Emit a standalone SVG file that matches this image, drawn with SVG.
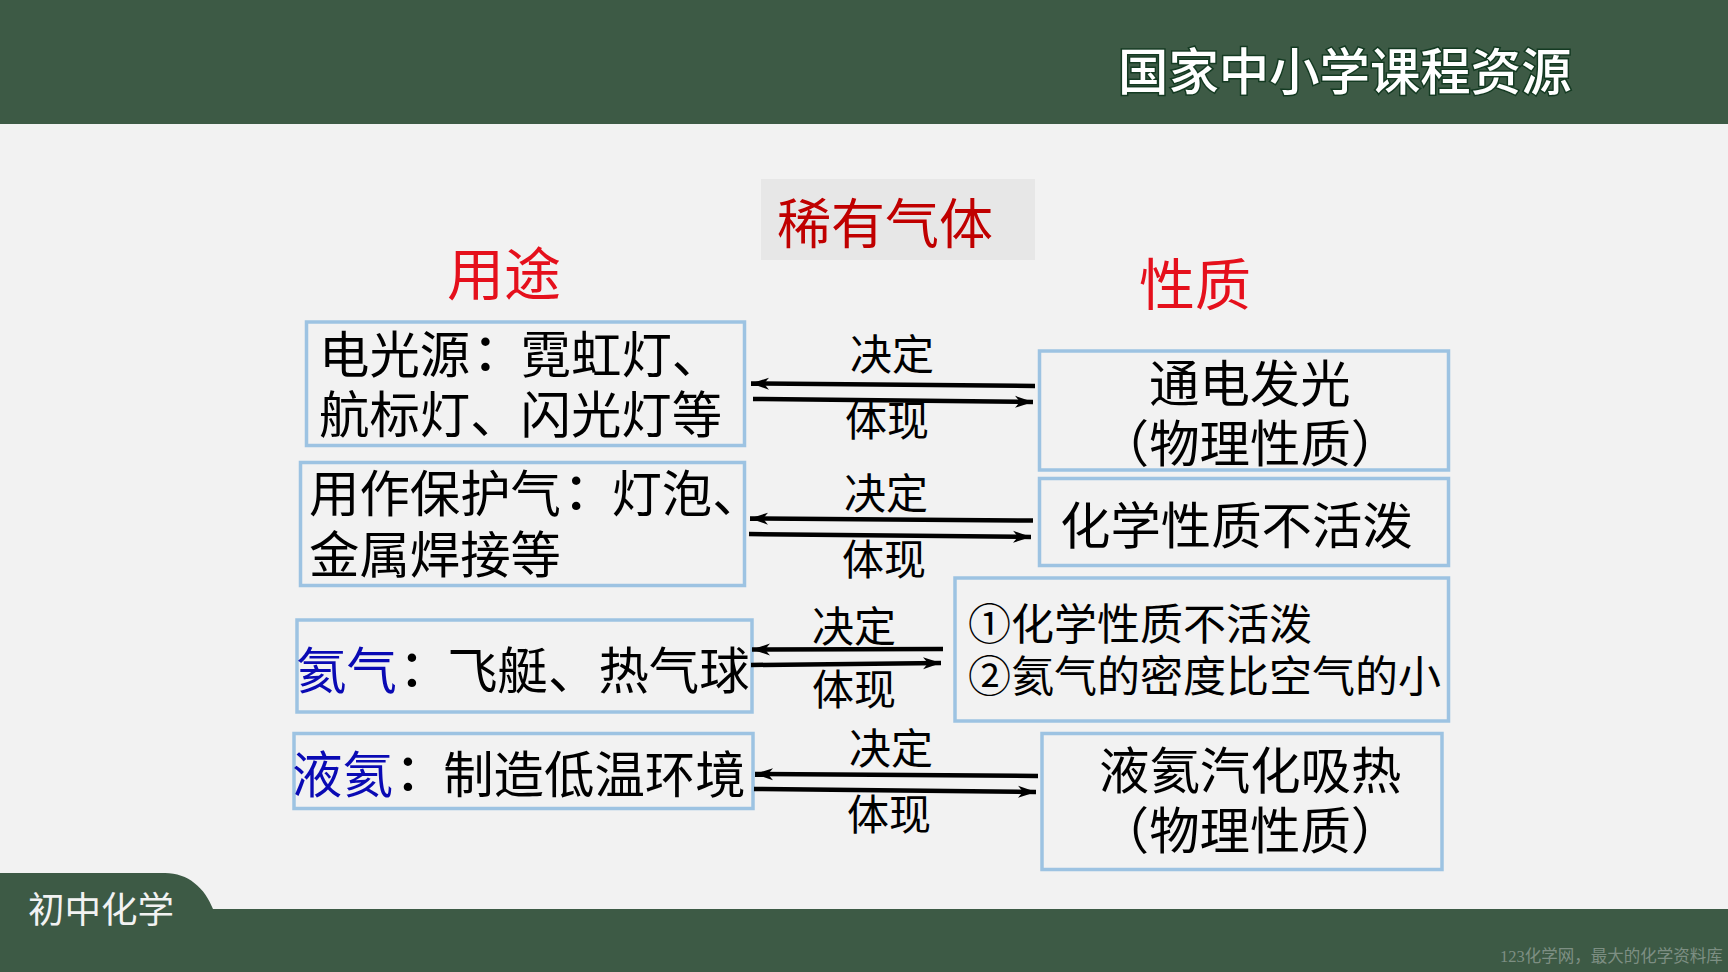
<svg xmlns="http://www.w3.org/2000/svg" width="1728" height="972" viewBox="0 0 1728 972">
<style>
text{font-family:"Liberation Sans","Noto Sans CJK SC",sans-serif;fill:#000;white-space:pre;text-spacing-trim:space-all}
.box{fill:#f2f2f2;stroke:#9dc3e2;stroke-width:3.5}
.t50{font-size:50.4px}
.t43{font-size:43px}
.lab{font-size:42px;text-anchor:middle}
.blue{fill:#0a0ab4}
.red{fill:#e5101c}
.c{font-family:"Noto Sans CJK TC",sans-serif;font-weight:500}
.arrow{stroke:#000;stroke-width:4.5;fill:none;marker-end:url(#ah)}
</style>
<defs>
<marker id="ah" markerUnits="userSpaceOnUse" markerWidth="20" markerHeight="14" refX="18" refY="7" orient="auto">
<path d="M0 1 L18 7 L0 13 L5 7 Z" fill="#000"/>
</marker>
</defs>
<rect width="1728" height="972" fill="#f2f2f2"/>
<g id="header">
<rect width="1728" height="124" fill="#3d5a45"/>
<text x="1118" y="90" font-size="50.4" font-weight="500" style="fill:#fff;stroke:#143a22;stroke-width:3;paint-order:stroke">国家中小学课程资源</text>
</g>
<g id="footer">
<path d="M0 873H165C188 873 205 888 213 909H1728V972H0Z" fill="#3d5a45"/>
<text x="28" y="923" font-size="36.5" style="fill:#f2f2f2">初中化学</text>
<text x="1500" y="962" font-size="16.5" style="fill:#7d8f83;font-family:'Liberation Serif','Noto Sans CJK SC',serif">123化学网，最大的化学资料库</text>
</g>
<g id="title">
<rect x="761" y="179" width="274" height="81" fill="#e7e7e7"/>
<text x="777" y="244" font-size="54" style="fill:#c00000">稀有气体</text>
</g>
<g id="heading-use"><text x="447" y="295" font-size="57" class="red">用途</text></g>
<g id="heading-property"><text x="1139" y="305" font-size="56" class="red">性质</text></g>
<g id="use-1">
<rect class="box" x="306.500" y="322" width="438" height="123.500"/>
<text class="t50" x="319" y="373">电光源<tspan class="c" dx="-10">：</tspan><tspan dx="10">霓虹灯、</tspan></text>
<text class="t50" x="319" y="433">航标灯、闪光灯等</text>
</g>
<g id="use-2">
<rect class="box" x="300.500" y="462.500" width="444" height="123"/>
<text class="t50" x="309" y="512">用作保护气<tspan class="c" dx="-10">：</tspan><tspan dx="10">灯泡、</tspan></text>
<text class="t50" x="309" y="573">金属焊接等</text>
</g>
<g id="use-3">
<rect class="box" x="297" y="620" width="455" height="92"/>
<text class="t50" x="296" y="689"><tspan class="blue">氦气</tspan><tspan class="c" dx="-10">：</tspan><tspan dx="10">飞艇、热气球</tspan></text>
</g>
<g id="use-4">
<rect class="box" x="294" y="733.500" width="459" height="75"/>
<text class="t50" x="292" y="793"><tspan class="blue">液氦</tspan><tspan class="c" dx="-10">：</tspan><tspan dx="10">制造低温环境</tspan></text>
</g>
<g id="prop-1">
<rect class="box" x="1039.500" y="351" width="409" height="119"/>
<text class="t50" x="1149" y="402">通电发光</text>
<text class="t50" x="1250" y="462" text-anchor="middle">（物理性质）</text>
</g>
<g id="prop-2">
<rect class="box" x="1039.500" y="478.500" width="409" height="87"/>
<text class="t50" x="1060" y="544">化学性质不活泼</text>
</g>
<g id="prop-3">
<rect class="box" x="955" y="578" width="493.500" height="143"/>
<text class="t43" x="968" y="640">①化学性质不活泼</text>
<text class="t43" x="968" y="692">②氦气的密度比空气的小</text>
</g>
<g id="prop-4">
<rect class="box" x="1042" y="733.500" width="400" height="136"/>
<text class="t50" x="1099" y="789">液氦汽化吸热</text>
<text class="t50" x="1250" y="849" text-anchor="middle">（物理性质）</text>
</g>
<g id="connectors">
<line class="arrow" x1="1035" y1="386" x2="751" y2="383.500"/>
<line class="arrow" x1="753" y1="399" x2="1033" y2="402"/>
<line class="arrow" x1="1033" y1="520.500" x2="750" y2="518.500"/>
<line class="arrow" x1="749" y1="534" x2="1031" y2="537"/>
<line class="arrow" x1="943" y1="649" x2="752" y2="649.500"/>
<line class="arrow" x1="751" y1="665" x2="941" y2="663"/>
<line class="arrow" x1="1038" y1="776" x2="755" y2="774"/>
<line class="arrow" x1="754" y1="789" x2="1036" y2="792"/>
</g>
<g id="connector-labels">
<text class="lab" x="892" y="370">决定</text><text class="lab" x="887" y="436">体现</text>
<text class="lab" x="886" y="509">决定</text><text class="lab" x="884" y="575">体现</text>
<text class="lab" x="854" y="642">决定</text><text class="lab" x="854" y="705">体现</text>
<text class="lab" x="891" y="764">决定</text><text class="lab" x="889" y="830">体现</text>
</g>
</svg>
